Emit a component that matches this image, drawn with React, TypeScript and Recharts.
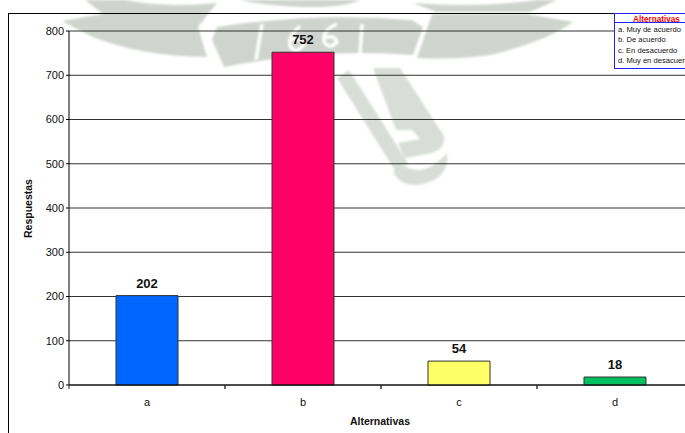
import React from "react";
import { BarChart, Bar, XAxis, YAxis, CartesianGrid, Cell, LabelList } from "recharts";

const categories = ["a", "b", "c", "d"];
const respuestas = [202, 752, 54, 18];
const colours = ["#0066ff", "#ff0066", "#ffff66", "#00c060"];
const yTicks = [0, 100, 200, 300, 400, 500, 600, 700, 800];
const legendTitle = "Alternativas";
const legendLines = ["a. Muy de acuerdo", "b. De acuerdo", "c. En desacuerdo", "d. Muy en desacuerdo"];
const rows = categories.map((c, i) => ({ name: c, value: respuestas[i] }));

const FONT = "'Liberation Sans', Arial, sans-serif";
const HALF_BAND = 78;

const XTick = (p: any) => {
  const { x, payload } = p;
  return (
    <g>
      <line x1={x - HALF_BAND} x2={x - HALF_BAND} y1={385} y2={389} stroke="#333" />
      <line x1={x + HALF_BAND} x2={x + HALF_BAND} y1={385} y2={389} stroke="#333" />
      <text x={x} y={406} textAnchor="middle" fontSize={11} fontFamily={FONT} fill="#111">{payload.value}</text>
    </g>
  );
};

const Watermark = () => (
  <svg width={685} height={433} style={{ position: "absolute", left: 0, top: 0 }}>
    <defs>
      <filter id="soft"><feGaussianBlur stdDeviation="0.9" /></filter>
    </defs>
    <g fill="#cfd5ce" filter="url(#soft)">
      <path d="M85 0 L125 0 Q165 8 217 3 L198 27 L207 57 Q140 56 93 37 Q75 28 62 21 L103 14Z" />
      <path d="M217 27 Q315 12 412 20 L423 27 L413 55 Q320 48 224 67 L212 40Z" />
      <path d="M432 14 L527 14 L573 22 Q545 42 490 55 Q455 60 417 58 Z" />
      <path d="M240 0 H360 Q345 8 300 7 Q265 6 240 0Z" />
      <path d="M413 3 Q480 8 537 0 H557 L530 12 H436Z" />
      <g fillOpacity={0.8}>
        <path d="M337 78 L349 70 L408 163 L396 172Z" />
        <path d="M373 68 L400 68 L444 136 Q446 150 428 154 L405 158 L398 143 L420 139 L412 130 L396 130Z" />
        <path d="M393 172 L405 166 Q425 178 447 153 Q450 180 418 185 Q400 186 393 172Z" />
      </g>
    </g>
    <g fill="none" stroke="#fff" strokeWidth={3.5} filter="url(#soft)">
      <path d="M262 24 L256 60" />
      <path d="M300 26 Q288 36 290 46 Q296 56 304 44 Q300 36 291 40" />
      <path d="M337 24 Q322 30 324 42 Q330 50 337 42 Q334 34 325 38" />
      <path d="M362 24 L360 56" />
    </g>
  </svg>
);

export default function App() {
  return (
    <div style={{ position: "absolute", left: 0, top: 0, width: 685, height: 433, overflow: "hidden", background: "#fff" }}>
      <Watermark />
      <div style={{ position: "absolute", left: 8, top: 13, width: 800, height: 600, borderLeft: "1px solid #000", borderTop: "1px solid #000" }} />
      <div style={{ position: "absolute", left: 0, top: 0 }}>
        <BarChart width={700} height={433} data={rows} margin={{ top: 31, right: 7, bottom: 0, left: 0 }} barSize={62}>
          <CartesianGrid horizontal vertical={false} stroke="#333" strokeOpacity={1} />
          <XAxis
            dataKey="name"
            height={48}
            stroke="#000"
            tickLine={false}
            tick={<XTick />}
            interval={0}
            label={{ value: "Alternativas", position: "insideBottom", offset: 0, dy: -8, dx: -1, fontSize: 10.5, fontWeight: "bold", fontFamily: FONT, fill: "#111" }}
          />
          <YAxis
            width={69}
            domain={[0, 800]}
            ticks={yTicks}
            interval={0}
            stroke="#000"
            tickSize={3}
            tickMargin={2}
            tick={{ fontSize: 11, fontFamily: FONT, fill: "#111" }}
            label={{ value: "Respuestas", angle: -90, position: "insideLeft", dx: 23, dy: 30, fontSize: 10.5, fontWeight: "bold", fontFamily: FONT, fill: "#111" }}
          />
          <Bar dataKey="value" stroke="#333" strokeWidth={1} isAnimationActive={false}>
            {rows.map((r, i) => <Cell key={r.name} fill={colours[i]} />)}
            <LabelList dataKey="value" position="top" offset={8} style={{ fontSize: 13, fontWeight: "bold", fontFamily: FONT, fill: "#111" }} />
          </Bar>
        </BarChart>
      </div>
      <div style={{ position: "absolute", left: 614, top: 13, width: 100, height: 54, border: "1px solid #2222ff", background: "#fff", fontFamily: FONT, fontSize: 7.6, lineHeight: "10.4px", color: "#111", whiteSpace: "nowrap" }}>
        <div style={{ color: "#ff0000", fontWeight: "bold", fontSize: 8.2, height: 8, lineHeight: "11px", borderBottom: "1px solid #2222ff", paddingLeft: 18 }}>{legendTitle}</div>
        <div style={{ paddingLeft: 3, paddingTop: 2 }}>
          {legendLines.map((l) => <div key={l}>{l}</div>)}
        </div>
      </div>
    </div>
  );
}
